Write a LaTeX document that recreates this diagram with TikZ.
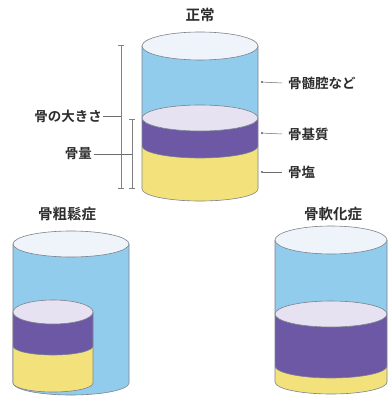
\documentclass[tikz,border=0pt]{standalone}
\usepackage{fontspec}
\newfontfamily\jp{Noto Sans CJK JP}[BoldFont={Noto Sans CJK JP Bold}]
\usetikzlibrary{arrows.meta}

\definecolor{cylblue}{RGB}{146,204,236}
\definecolor{capfill}{RGB}{238,244,250}
\definecolor{lavender}{RGB}{230,226,242}
\definecolor{bonematrix}{RGB}{108,88,165}
\definecolor{bonemineral}{RGB}{243,226,124}
\definecolor{rim}{RGB}{125,130,140}
\definecolor{ink}{RGB}{45,45,45}

% side wall of one layer: straight top edge, rounded bottom edge
% #1 cx, #2 rx, #3 top, #4 bottom, #5 ry, #6 colour
\newcommand\cyllayer[6]{%
  \fill[#6] (#1-#2,#3) -- (#1-#2,#4)
    arc[start angle=180,end angle=360,x radius=#2pt,y radius=#5pt]
    -- (#1+#2,#3) -- cycle;}
% outer wall outline
\newcommand\cylwall[5]{%
  \draw[rimline] (#1-#2,#3) -- (#1-#2,#4)
    arc[start angle=180,end angle=360,x radius=#2pt,y radius=#5pt]
    -- (#1+#2,#3);}
% front boundary between two layers
\newcommand\cylseam[4]{%
  \draw[rimline] (#1-#2,#3)
    arc[start angle=180,end angle=360,x radius=#2pt,y radius=#4pt];}
% elliptic cap
\newcommand\cylcap[5]{%
  \draw[rimline,fill=#5] (#1,#3) ellipse[x radius=#2pt,y radius=#4pt];}

\begin{document}
\begin{tikzpicture}[x=1pt,y=-1pt,
  rimline/.style={draw=rim,line width=0.6pt},
  title/.style={font=\jp\fontsize{14.5}{14.5}\selectfont\bfseries,text=ink,inner sep=0pt},
  lbl/.style={font=\jp\fontsize{13.5}{13.5}\selectfont\bfseries,text=ink,inner sep=0pt},
  leader/.style={draw=ink!70,line width=0.5pt},
  brace/.style={draw=ink!60,line width=0.5pt}]
\useasboundingbox (0,0) rectangle (388,396);
\fill[white] (0,0) rectangle (388,396);

% ---------- normal bone ----------
\node[title] (tNormal) at (200,15) {正常};
\cyllayer{200}{58}{146}{189}{12}{bonemineral}
\cyllayer{200}{58}{118}{146}{12}{bonematrix}
\cyllayer{200}{58}{46}{118}{13}{cylblue}
\cylwall{200}{58}{46}{189}{12}
\cylseam{200}{58}{146}{12}
\cylcap{200}{58}{118}{13}{lavender}
\cylcap{200}{58}{46}{14}{capfill}

% labels on the right
\node[lbl,anchor=west] (lMarrow)  at (288,83)  {骨髄腔など};
\node[lbl,anchor=west] (lMatrix)  at (288,134) {骨基質};
\node[lbl,anchor=west] (lMineral) at (288,172) {骨塩};
\coordinate (pMarrow)  at (261,82);
\coordinate (pMatrix)  at (261,133);
\coordinate (pMineral) at (261,172);
\draw[leader,{Circle[length=2pt]}-] (pMarrow)  -- (lMarrow.west -| 282,0);
\draw[leader,{Circle[length=2pt]}-] (pMatrix)  -- (lMatrix.west -| 282,0);
\draw[leader,{Circle[length=2pt]}-] (pMineral) -- (lMineral.west -| 282,0);

% brackets on the left
\coordinate (bSizeTop) at (121,45);
\coordinate (bSizeBot) at (121,188);
\coordinate (bMassTop) at (132,119);
\coordinate (bMassBot) at (132,188);
\draw[brace] (bSizeTop) -- (bSizeBot);
\draw[brace] ([xshift=-3pt]bSizeTop) -- ([xshift=3pt]bSizeTop);
\draw[brace] ([xshift=-3pt]bSizeBot) -- ([xshift=3pt]bSizeBot);
\draw[brace] (bMassTop) -- (bMassBot);
\draw[brace] ([xshift=-3pt]bMassTop) -- ([xshift=3pt]bMassTop);
\draw[brace] ([xshift=-3pt]bMassBot) -- ([xshift=3pt]bMassBot);

\node[lbl,anchor=east] (lSize) at (102,116) {骨の大きさ};
\node[lbl,anchor=east] (lMass) at (92,154)  {骨量};
\coordinate (bSizeMid) at (121,116);
\coordinate (bMassMid) at (132,154);
\draw[leader] ([xshift=1pt]lSize.east) -- (bSizeMid);
\draw[leader] ([xshift=2pt]lMass.east) -- (bMassMid);

% ---------- osteoporosis ----------
\node[title] (tPorosis) at (67,214) {骨粗鬆症};
\cyllayer{71}{58}{244}{383}{12}{cylblue}
\cylwall{71}{58}{244}{383}{12}
\cylcap{71}{58}{244}{13}{capfill}
\cyllayer{53}{40}{346}{383}{9}{bonemineral}
\cyllayer{53}{40}{312}{346}{9}{bonematrix}
\cylwall{53}{40}{312}{383}{9}
\cylseam{53}{40}{346}{9}
\cylcap{53}{40}{312}{12}{lavender}

% ---------- osteomalacia ----------
\node[title] (tMalacia) at (333,214) {骨軟化症};
\cyllayer{331}{56}{366}{382}{12}{bonemineral}
\cyllayer{331}{56}{314}{366}{12}{bonematrix}
\cyllayer{331}{56}{240}{314}{13}{cylblue}
\cylwall{331}{56}{240}{382}{12}
\cylseam{331}{56}{366}{12}
\cylcap{331}{56}{314}{13}{lavender}
\cylcap{331}{56}{240}{14}{capfill}
\end{tikzpicture}
\end{document}
